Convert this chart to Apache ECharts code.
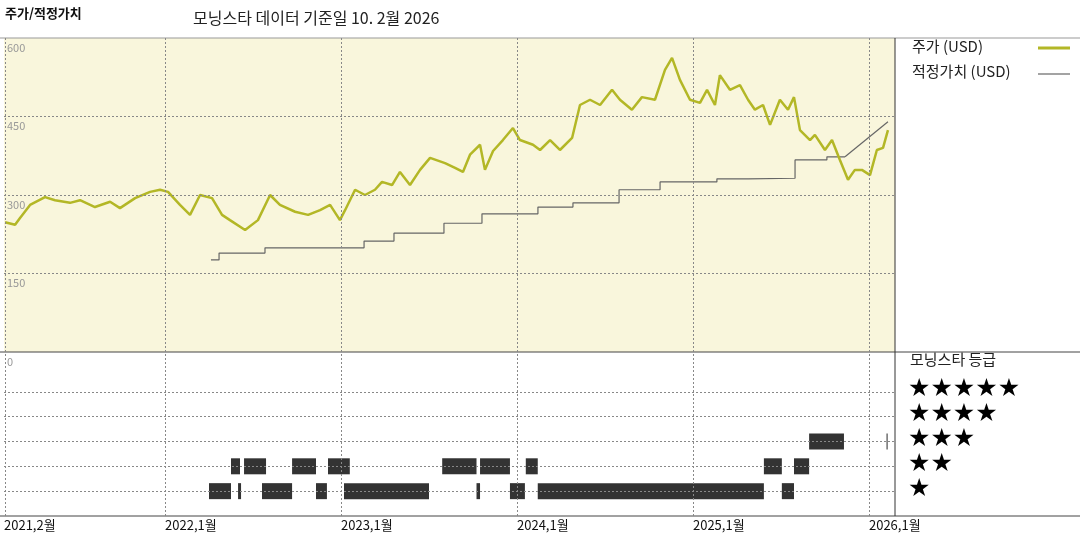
<!DOCTYPE html>
<html><head><meta charset="utf-8">
<script src="https://cdn.jsdelivr.net/npm/echarts@6/dist/echarts.min.js"></script>
<style>html,body{margin:0;padding:0;background:#fff}#c{width:1080px;height:540px}</style>
</head><body><div id="c"></div>
<script>
// Dates as decimal years
const priceData = [
[2021.091,248],[2021.148,243],[2021.176,256],[2021.233,281],[2021.318,296],[2021.375,290],[2021.460,285],[2021.517,290],
[2021.602,277],[2021.688,287],[2021.744,275],[2021.830,294],[2021.915,306],[2021.972,310],[2022.017,306],[2022.085,281],
[2022.142,262],[2022.199,300],[2022.267,294],[2022.324,262],[2022.369,252],[2022.455,233],[2022.528,252],[2022.597,300],
[2022.653,281],[2022.739,268],[2022.813,262],[2022.881,271],[2022.938,281],[2022.994,252],[2023.023,271],[2023.080,310],
[2023.136,300],[2023.193,310],[2023.233,325],[2023.290,319],[2023.335,344],[2023.392,319],[2023.449,348],[2023.506,371],
[2023.591,361],[2023.648,352],[2023.693,344],[2023.733,377],[2023.790,396],[2023.818,348],[2023.864,384],[2023.920,405],
[2023.977,428],[2024.017,405],[2024.091,396],[2024.131,386],[2024.188,405],[2024.244,386],[2024.313,409],[2024.358,472],
[2024.415,482],[2024.472,472],[2024.540,501],[2024.585,482],[2024.653,463],[2024.710,487],[2024.784,482],[2024.841,539],
[2024.881,562],[2024.926,520],[2024.983,482],[2025.040,476],[2025.080,501],[2025.125,472],[2025.153,529],[2025.210,501],
[2025.267,510],[2025.313,482],[2025.352,463],[2025.398,472],[2025.438,434],[2025.494,482],[2025.540,463],[2025.574,487],
[2025.608,424],[2025.665,405],[2025.693,415],[2025.750,386],[2025.790,405],[2025.835,367],[2025.881,329],[2025.920,348],
[2025.960,348],[2026.006,338],[2026.045,386],[2026.080,390],[2026.108,424]
];
const fairValueSteps = [
[2022.261,176],[2022.307,189],[2022.568,199],[2023.131,212],[2023.301,227],[2023.585,246],[2023.801,264],[2024.119,277],
[2024.318,285],[2024.580,310],[2024.813,325],[2025.136,331],[2025.313,332],[2025.580,367],[2025.761,373],[2025.864,373]
];
const fairValueTail = [[2025.864,373],[2026.108,440]];
// rating segments: [start, end, stars]
const ratingSegments = [
[2022.250,2022.375,1],[2022.415,2022.432,1],[2022.551,2022.722,1],[2022.858,2022.920,1],[2023.017,2023.500,1],
[2023.770,2023.790,1],[2023.960,2024.045,1],[2024.118,2025.403,1],[2025.505,2025.574,1],
[2022.375,2022.426,2],[2022.449,2022.574,2],[2022.722,2022.858,2],[2022.926,2023.050,2],[2023.575,2023.770,2],
[2023.790,2023.960,2],[2024.050,2024.118,2],[2025.403,2025.505,2],[2025.574,2025.660,2],
[2025.660,2025.858,3],[2026.100,2026.106,3]
];
const xTickValues = [2021.085,2022,2023,2024,2025,2026];
const xTickLabels = ['2021,2월','2022,1월','2023,1월','2024,1월','2025,1월','2026,1월'];
const yTickValues = [0,150,300,450,600];
const starLabels = ['★★★★★','★★★★','★★★','★★','★'];

const XMIN=2021.085, XMAX=2026.148;
const F='"Noto Sans CJK KR","Noto Sans",sans-serif';
const dash={color:'#888',type:[2,2],width:1};
const chart=echarts.init(document.getElementById('c'));
chart.setOption({
  animation:false,
  textStyle:{fontFamily:F},
  grid:[{left:4,right:185,top:38,height:314,backgroundColor:'#f9f6dc',show:true,borderWidth:0},
        {left:4,right:185,top:352,bottom:24}],
  xAxis:[
    {gridIndex:0,type:'value',min:XMIN,max:XMAX,axisLine:{show:false},axisTick:{show:false},axisLabel:{show:false},splitLine:{show:false}},
    {gridIndex:1,type:'value',min:XMIN,max:XMAX,axisLine:{show:false},axisTick:{show:false},splitLine:{show:false},
     axisLabel:{customValues:xTickValues,align:'left',margin:3,color:'#111',fontSize:13,
       formatter:v=>{let i=xTickValues.findIndex(t=>Math.abs(t-v)<0.01);return i>=0?xTickLabels[i]:'';}}}
  ],
  yAxis:[
    {gridIndex:0,type:'value',min:0,max:600,axisLine:{show:false},axisTick:{show:false},splitLine:{show:false},
     axisLabel:{customValues:yTickValues,inside:true,verticalAlign:'top',margin:0,padding:[4,0,0,3],color:'#999',fontSize:11}},
    {gridIndex:1,type:'value',min:0,max:6.6,show:false}
  ],
  series:[
    {type:'line',xAxisIndex:0,yAxisIndex:0,data:fairValueSteps,step:'end',symbol:'none',lineStyle:{color:'#666',width:1.2},
     markLine:{silent:true,symbol:'none',label:{show:false},lineStyle:dash,
       data:[...yTickValues.slice(1,4).map(v=>({yAxis:v})),...xTickValues.slice(1).map(v=>({xAxis:v})),{xAxis:XMIN}]}},
    {type:'line',xAxisIndex:0,yAxisIndex:0,data:fairValueTail,symbol:'none',lineStyle:{color:'#666',width:1.2}},
    {type:'line',xAxisIndex:0,yAxisIndex:0,data:priceData,symbol:'none',lineStyle:{color:'#b3b726',width:2.5}},
    {type:'custom',xAxisIndex:1,yAxisIndex:1,data:ratingSegments,
     renderItem:(p,api)=>{const a=api.coord([api.value(0),api.value(2)]),b=api.coord([api.value(1),api.value(2)]);
       return {type:'rect',shape:{x:a[0],y:a[1]-8,width:Math.max(1,b[0]-a[0]),height:16},style:{fill:'#333'}};},
     markLine:{silent:true,symbol:'none',label:{show:false},lineStyle:dash,
       data:[...[1,2,3,4,5].map(v=>({yAxis:v})),...xTickValues.slice(1).map(v=>({xAxis:v})),{xAxis:XMIN}]}}
  ],
  graphic:[
    {type:'text',left:5,top:7,style:{text:'주가/적정가치',font:'bold 13px '+F,fill:'#111'}},
    {type:'text',left:193,top:10,style:{text:'모닝스타 데이터 기준일 10. 2월 2026',font:'16px '+F,fill:'#222'}},
    {type:'line',shape:{x1:0,y1:38,x2:1080,y2:38},style:{stroke:'#999',lineWidth:1}},
    {type:'line',shape:{x1:0,y1:352,x2:1080,y2:352},style:{stroke:'#444',lineWidth:1}},
    {type:'line',shape:{x1:0,y1:516,x2:1080,y2:516},style:{stroke:'#444',lineWidth:1}},
    {type:'line',shape:{x1:895,y1:38,x2:895,y2:516},style:{stroke:'#333',lineWidth:1}},
    {type:'text',left:912,top:39,style:{text:'주가 (USD)',font:'15px '+F,fill:'#222'}},
    {type:'line',shape:{x1:1038,y1:48,x2:1070,y2:48},style:{stroke:'#b3b726',lineWidth:3}},
    {type:'text',left:912,top:64,style:{text:'적정가치 (USD)',font:'15px '+F,fill:'#222'}},
    {type:'line',shape:{x1:1038,y1:74,x2:1070,y2:74},style:{stroke:'#666',lineWidth:1.2}},
    {type:'text',left:910,top:352,style:{text:'모닝스타 등급',font:'15px '+F,fill:'#222'}},
    ...starLabels.map((s,i)=>({type:'text',left:908,top:377+i*25,style:{text:s,font:'25px "DejaVu Sans",sans-serif',fill:'#000'}}))
  ]
});
</script></body></html>
